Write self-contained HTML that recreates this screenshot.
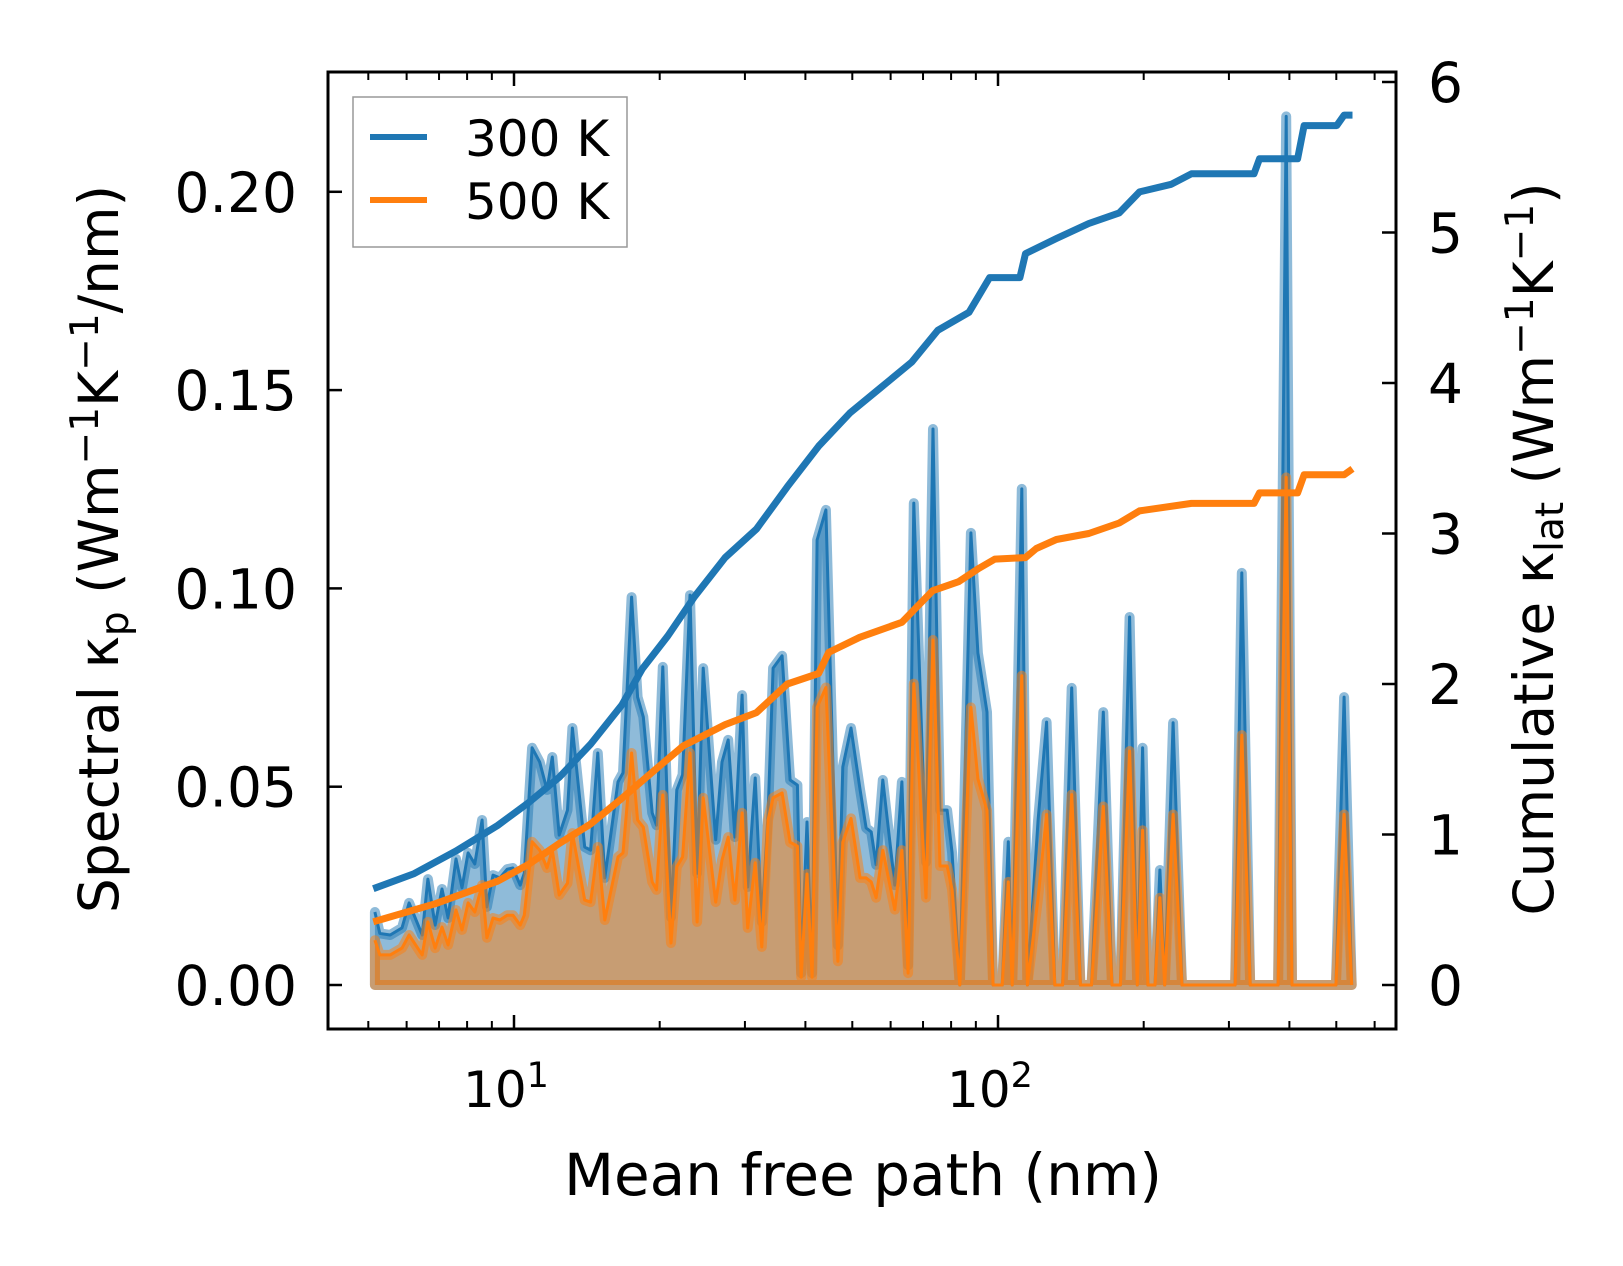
<!DOCTYPE html>
<html><head><meta charset="utf-8"><style>
html,body{margin:0;padding:0;background:#fff;}
svg{display:block;font-family:"DejaVu Sans","Liberation Sans",sans-serif;}
</style></head><body>
<svg id="chart" width="1623" height="1266" viewBox="0 0 1623 1266" xmlns="http://www.w3.org/2000/svg">
<rect x="0" y="0" width="1623" height="1266" fill="#fff"/>
<g id="plot"></g>
<g id="axes"></g>
</svg>
<script>
// Spectral data (mean free path in nm, spectral kappa)
const mfp = [5.16,5.28,5.55,5.87,6.07,6.46,6.64,6.87,7.10,7.31,7.59,7.81,8.04,8.30,8.59,8.79,9.05,9.35,9.68,9.95,10.3,10.5,10.9,11.3,11.7,12.0,12.4,12.9,13.2,14.0,14.4,14.9,15.4,16.4,16.8,17.5,18.0,18.5,19.3,19.7,20.3,21.1,21.7,22.3,23.1,23.9,24.6,26.1,26.9,27.7,28.6,29.6,30.4,31.5,32.5,33.5,34.3,35.8,37.2,38.5,39.2,40.3,41.3,42.3,44.1,46.7,47.8,49.7,51.9,53.4,54.7,56.0,57.8,61.2,63.3,65.2,67.0,71.0,73.4,75.9,78.5,80.4,83.4,87.9,90.9,94.9,97.7,102,105,107,112,115,121,126,131,136,142,148,156,165,172,179,187,194,199,204,211,216,221,230,240,309,319,332,379,394,405,499,519,538];
const spec300 = [0.0184,0.013,0.0126,0.0144,0.0207,0.0126,0.0267,0.0151,0.0242,0.0169,0.0318,0.0245,0.0333,0.0305,0.0416,0.0197,0.0277,0.027,0.0292,0.0295,0.0252,0.0282,0.0598,0.0562,0.0492,0.0575,0.0378,0.0441,0.0648,0.0348,0.034,0.0585,0.027,0.0512,0.0535,0.0978,0.0726,0.0676,0.0434,0.0403,0.0802,0.0171,0.0492,0.053,0.0983,0.0282,0.0799,0.0366,0.0562,0.0618,0.0373,0.0731,0.0247,0.0522,0.0159,0.0434,0.0799,0.083,0.0517,0.0504,0.003,0.0411,0.003,0.1122,0.1198,0.01,0.055,0.0648,0.0492,0.0396,0.0386,0.0303,0.0517,0.0252,0.0512,0.005,0.1215,0.031,0.1402,0.0441,0.0441,0.0333,0,0.114,0.0837,0.0688,0,0,0.0361,0,0.1251,0,0.0416,0.0663,0,0,0.0749,0,0,0.0688,0,0,0.0928,0,0.0598,0,0,0.029,0,0.0661,0,0,0.1039,0,0,0.219,0,0,0.0726,0];
const spec500 = [0.0113,0.0076,0.0076,0.0093,0.0126,0.0076,0.0159,0.0093,0.0146,0.0101,0.0189,0.0139,0.0207,0.0184,0.0252,0.0119,0.0169,0.0164,0.0176,0.0176,0.0151,0.0176,0.0361,0.034,0.0295,0.034,0.0227,0.0257,0.0383,0.0214,0.0209,0.0348,0.0164,0.0323,0.0333,0.0585,0.0416,0.0398,0.026,0.024,0.0479,0.0106,0.0298,0.0323,0.0585,0.0159,0.0472,0.0209,0.0315,0.0373,0.0214,0.0434,0.0144,0.0308,0.0096,0.0416,0.0472,0.0484,0.036,0.035,0.002,0.028,0.002,0.070,0.075,0.006,0.036,0.042,0.027,0.027,0.026,0.022,0.034,0.019,0.034,0.003,0.076,0.022,0.087,0.030,0.030,0.024,0,0.070,0.052,0.044,0,0,0.026,0,0.078,0,0.022,0.043,0,0,0.048,0,0,0.045,0,0,0.059,0,0.039,0,0,0.022,0,0.043,0,0,0.063,0,0,0.128,0,0,0.043,0];
// Cumulative data
const cumMfp300 = [5.12,6.22,7.58,9.25,10.7,12.4,14.4,16.7,18.4,20.8,23.6,27.3,31.7,36.7,42.6,49.4,57.3,66.4,75.1,87.1,96.1,111,114,132,154,178,196,228,251,338,347,416,429,501,519,540];
const cum300 = [0.64,0.74,0.89,1.06,1.21,1.38,1.60,1.86,2.10,2.32,2.58,2.84,3.03,3.31,3.58,3.80,3.97,4.14,4.35,4.47,4.70,4.70,4.86,4.96,5.06,5.13,5.27,5.32,5.39,5.39,5.49,5.49,5.71,5.71,5.78,5.78];
const cumMfp500 = [5.12,6.88,9.25,10.7,12.4,14.4,16.7,19.4,22.4,27.3,31.7,36.7,42.6,44.7,51.8,63.3,73.3,82.9,91.5,98.5,114,120,132,154,178,196,251,338,347,416,429,519,540];
const cum500 = [0.42,0.54,0.69,0.80,0.94,1.07,1.24,1.42,1.59,1.73,1.81,2.00,2.07,2.21,2.31,2.41,2.62,2.68,2.77,2.83,2.84,2.90,2.96,3.00,3.07,3.15,3.20,3.20,3.27,3.27,3.39,3.39,3.43];
const leftTicks = [0,0.05,0.10,0.15,0.20];
const leftTickLabels = ["0.00","0.05","0.10","0.15","0.20"];
const rightTicks = [0,1,2,3,4,5,6];
const xMajor = [10,100];

const L=328,R=1396,T=72,B=1029;
const X=v=>514+(Math.log10(v)-1)*484;
const YL=v=>985-v*3966;
const YR=v=>985-v*150.5;
const NS="http://www.w3.org/2000/svg";
const plot=document.getElementById('plot'), axes=document.getElementById('axes');
function mk(tag,attrs,parent){const e=document.createElementNS(NS,tag);for(const k in attrs)e.setAttribute(k,attrs[k]);parent.appendChild(e);return e;}

function area(xs,ys,color,name){
  let d='M'+X(xs[0])+','+YL(0);
  xs.forEach((x,i)=>{d+=' L'+X(x).toFixed(1)+','+YL(ys[i]).toFixed(1);});
  d+=' L'+X(xs[xs.length-1])+','+YL(0)+' Z';
  const f=mk('path',{d:d,fill:color,'fill-opacity':0.5,stroke:color,'stroke-opacity':0.5,'stroke-width':10,'stroke-linejoin':'round'},plot);
  
  
  let d2='';
  xs.forEach((x,i)=>{d2+=(i?' L':'M')+X(x).toFixed(1)+','+YL(ys[i]).toFixed(1);});
  const l=mk('path',{d:d2,fill:'none',stroke:color,'stroke-width':3,'stroke-linejoin':'round'},plot);
  
  
}
area(mfp,spec300,'#1f77b4','spectral-300k');
area(mfp,spec500,'#ff7f0e','spectral-500k');

function line(xs,ys,color,name){
  let d='';
  xs.forEach((x,i)=>{d+=(i?' L':'M')+X(x).toFixed(1)+','+YR(ys[i]).toFixed(1);});
  const l=mk('path',{d:d,fill:'none',stroke:color,'stroke-width':7,'stroke-linejoin':'round'},plot);
  
  
}
line(cumMfp300,cum300,'#1f77b4','cumulative-300k');
line(cumMfp500,cum500,'#ff7f0e','cumulative-500k');

const fr=mk('rect',{x:L,y:T,width:R-L,height:B-T,fill:'none',stroke:'#000','stroke-width':3},axes);



leftTicks.forEach((v,i)=>{
  const y=YL(v);
  const t=mk('line',{x1:L,x2:L+14,y1:y,y2:y,stroke:'#000','stroke-width':2.5},axes);
  
  
  const tx=mk('text',{x:297,y:y+20,'text-anchor':'end','font-size':55,fill:'#000'},axes);
  tx.textContent=leftTickLabels[i];
  
  
});
rightTicks.forEach(v=>{
  const y=YR(v);
  const t=mk('line',{x1:R-14,x2:R,y1:y,y2:y,stroke:'#000','stroke-width':2.5},axes);
  
  
  const tx=mk('text',{x:1428,y:y+20,'text-anchor':'start','font-size':55,fill:'#000'},axes);
  tx.textContent=String(v);
  
  
});
for(let e=0;e<3;e++){for(let m=1;m<10;m++){
  const v=m*Math.pow(10,e); const x=X(v); if(x<L||x>R)continue;
  const len=m===1?14:8;
  [[B,B-len],[T,T+len]].forEach(p=>{
    const t=mk('line',{x1:x,x2:x,y1:p[0],y2:p[1],stroke:'#000','stroke-width':m===1?2.5:2},axes);
    
    
  });
}}
xMajor.forEach(v=>{
  const tx=mk('text',{x:X(v)-8,y:1107,'text-anchor':'middle','font-size':50,fill:'#000'},axes);
  tx.textContent='10';
  const s=mk('tspan',{dy:-20,'font-size':35},tx);
  s.textContent=String(Math.round(Math.log10(v)));
  
  
});
</script>
<svg style="position:absolute;left:0;top:0" width="1623" height="1266" xmlns="http://www.w3.org/2000/svg" font-family="DejaVu Sans, Liberation Sans, sans-serif">
<text x="863" y="1195" text-anchor="middle" font-size="58">Mean free path (nm)</text>
<text transform="translate(118,549) rotate(-90)" text-anchor="middle" font-size="55">Spectral κ<tspan font-size="39" dy="10">p</tspan><tspan dy="-10"> (Wm</tspan><tspan font-size="39" dy="-20">−1</tspan><tspan dy="20">K</tspan><tspan font-size="39" dy="-20">−1</tspan><tspan dy="20">/nm)</tspan></text>
<text transform="translate(1553,549) rotate(-90)" text-anchor="middle" font-size="55">Cumulative κ<tspan font-size="39" dy="10">lat</tspan><tspan dy="-10"> (Wm</tspan><tspan font-size="39" dy="-20">−1</tspan><tspan dy="20">K</tspan><tspan font-size="39" dy="-20">−1</tspan><tspan dy="20">)</tspan></text>
<g>
<rect x="353" y="97" width="274" height="150" fill="#fff" fill-opacity="0.8" stroke="#999" stroke-width="1.5"/>
<line x1="370" x2="427" y1="137" y2="137" stroke="#1f77b4" stroke-width="6"/>
<text x="465" y="156" font-size="50">300 K</text>
<line x1="370" x2="427" y1="200" y2="200" stroke="#ff7f0e" stroke-width="6"/>
<text x="465" y="219" font-size="50">500 K</text>
</g>
</svg>
</body></html>
